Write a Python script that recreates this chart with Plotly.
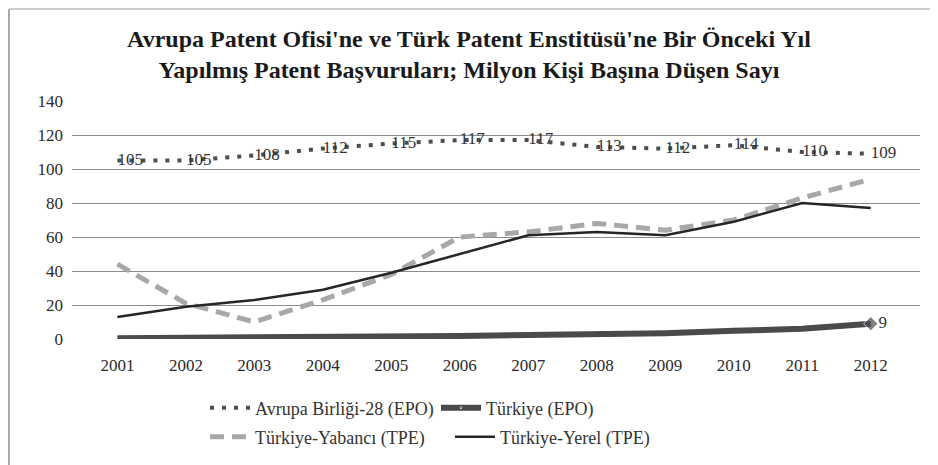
import plotly.graph_objects as go

years = ["2001", "2002", "2003", "2004", "2005", "2006", "2007", "2008", "2009", "2010", "2011", "2012"]
ab28_epo = [105, 105, 108, 112, 115, 117, 117, 113, 112, 114, 110, 109]
turkiye_epo = [0.5, 0.6, 0.7, 0.9, 1.3, 1.8, 2.3, 2.6, 3.4, 4.8, 6.0, 9]
turkiye_yabanci = [44, 21, 10, 23, 38, 60, 63, 68, 64, 70, 83, 94]
turkiye_yerel = [13, 19, 23, 29, 39, 50, 61, 63, 61, 69, 80, 77]
y_ticks = [0, 20, 40, 60, 80, 100, 120, 140]

title_text = ("Avrupa Patent Ofisi'ne ve Türk Patent Enstitüsü'ne Bir Önceki Yıl<br>"
              "Yapılmış Patent Başvuruları; Milyon Kişi Başına Düşen Sayı")

SERIF = "Liberation Serif, Times New Roman, serif"
W, H = 938, 465
OFF = 8  # default body margin of the html page
# target page-pixel positions of the plot area
P_LEFT, P_RIGHT, P_TOP, P_BOTTOM = 72, 920, 101, 339
L = P_LEFT - OFF
T = P_TOP - OFF
R = W - (P_RIGHT - OFF)
B = H - (P_BOTTOM - OFF)
PW = W - L - R
PH = H - T - B

def px_x(p):
    return (p - P_LEFT) / PW

def px_y(p):
    return (P_BOTTOM - p) / PH

fig = go.Figure()

fig.add_trace(go.Scatter(
    x=years, y=turkiye_yabanci, name="Türkiye-Yabancı (TPE)", mode="lines",
    line=dict(color="#A8A8A8", width=5, dash="14px,8px"), legend="legend2"))

fig.add_trace(go.Scatter(
    x=years, y=turkiye_yerel, name="Türkiye-Yerel (TPE)", mode="lines",
    line=dict(color="#262626", width=2.5), legend="legend2"))

fig.add_trace(go.Scatter(
    x=years, y=turkiye_epo, name="Türkiye (EPO)", mode="lines+markers+text",
    line=dict(color="#4A4A4A", width=6),
    marker=dict(symbol="diamond", size=[0] * (len(years) - 1) + [11], color="#4A4A4A"),
    text=[""] * (len(years) - 1) + [str(turkiye_epo[-1])],
    textposition="middle right",
    textfont=dict(family=SERIF, size=17, color="#333333"),
    legend="legend"))

fig.add_trace(go.Scatter(
    x=years, y=ab28_epo, name="Avrupa Birliği-28 (EPO)", mode="lines+text",
    line=dict(color="#4D4D4D", width=4, dash="4px,8px"),
    text=[str(v) for v in ab28_epo],
    textposition="middle right",
    textfont=dict(family=SERIF, size=17, color="#333333"),
    legend="legend", legendrank=1))

fig.update_layout(
    width=W, height=H,
    margin=dict(l=L, r=R, t=T, b=B, autoexpand=False),
    paper_bgcolor="white", plot_bgcolor="white",
    font=dict(family=SERIF, size=16, color="#333333"),
    title=dict(text=title_text, x=0.5 - OFF / W, xanchor="center", xref="container",
               y=1 - (47 - OFF) / H, yanchor="top", yref="container",
               font=dict(family=SERIF, size=24, color="#1a1a1a", weight="bold")),
    xaxis=dict(type="category", showgrid=False, showline=False, ticks="",
               tickfont=dict(family=SERIF, size=17, color="#2a2a2a"),
               ticklabelstandoff=14, zeroline=False, automargin=False),
    yaxis=dict(range=[0, 140], tickvals=y_ticks, showgrid=True, gridcolor="#8C8C8C",
               gridwidth=1, zeroline=False, showline=False, ticks="",
               tickfont=dict(family=SERIF, size=17, color="#2a2a2a"),
               ticklabelstandoff=8, automargin=False),
    legend=dict(orientation="h", x=px_x(205), xanchor="left", y=px_y(408), yanchor="middle",
                entrywidth=176, entrywidthmode="pixels", traceorder="normal",
                font=dict(family=SERIF, size=18, color="#333333"),
                itemwidth=40, bgcolor="rgba(0,0,0,0)"),
    legend2=dict(orientation="h", x=px_x(205), xanchor="left", y=px_y(437), yanchor="middle",
                 entrywidth=190, entrywidthmode="pixels", traceorder="normal",
                 font=dict(family=SERIF, size=18, color="#333333"),
                 itemwidth=40, bgcolor="rgba(0,0,0,0)"),
    showlegend=True,
)

fig.add_shape(type="line", xref="paper", yref="paper",
              x0=px_x(9), x1=px_x(9), y0=px_y(9), y1=px_y(480),
              line=dict(color="#8A8A8A", width=1.5))
fig.add_shape(type="line", xref="paper", yref="paper",
              x0=px_x(9), x1=px_x(960), y0=px_y(9), y1=px_y(9),
              line=dict(color="#BBBBBB", width=1.5))

fig.write_html("out.html")
